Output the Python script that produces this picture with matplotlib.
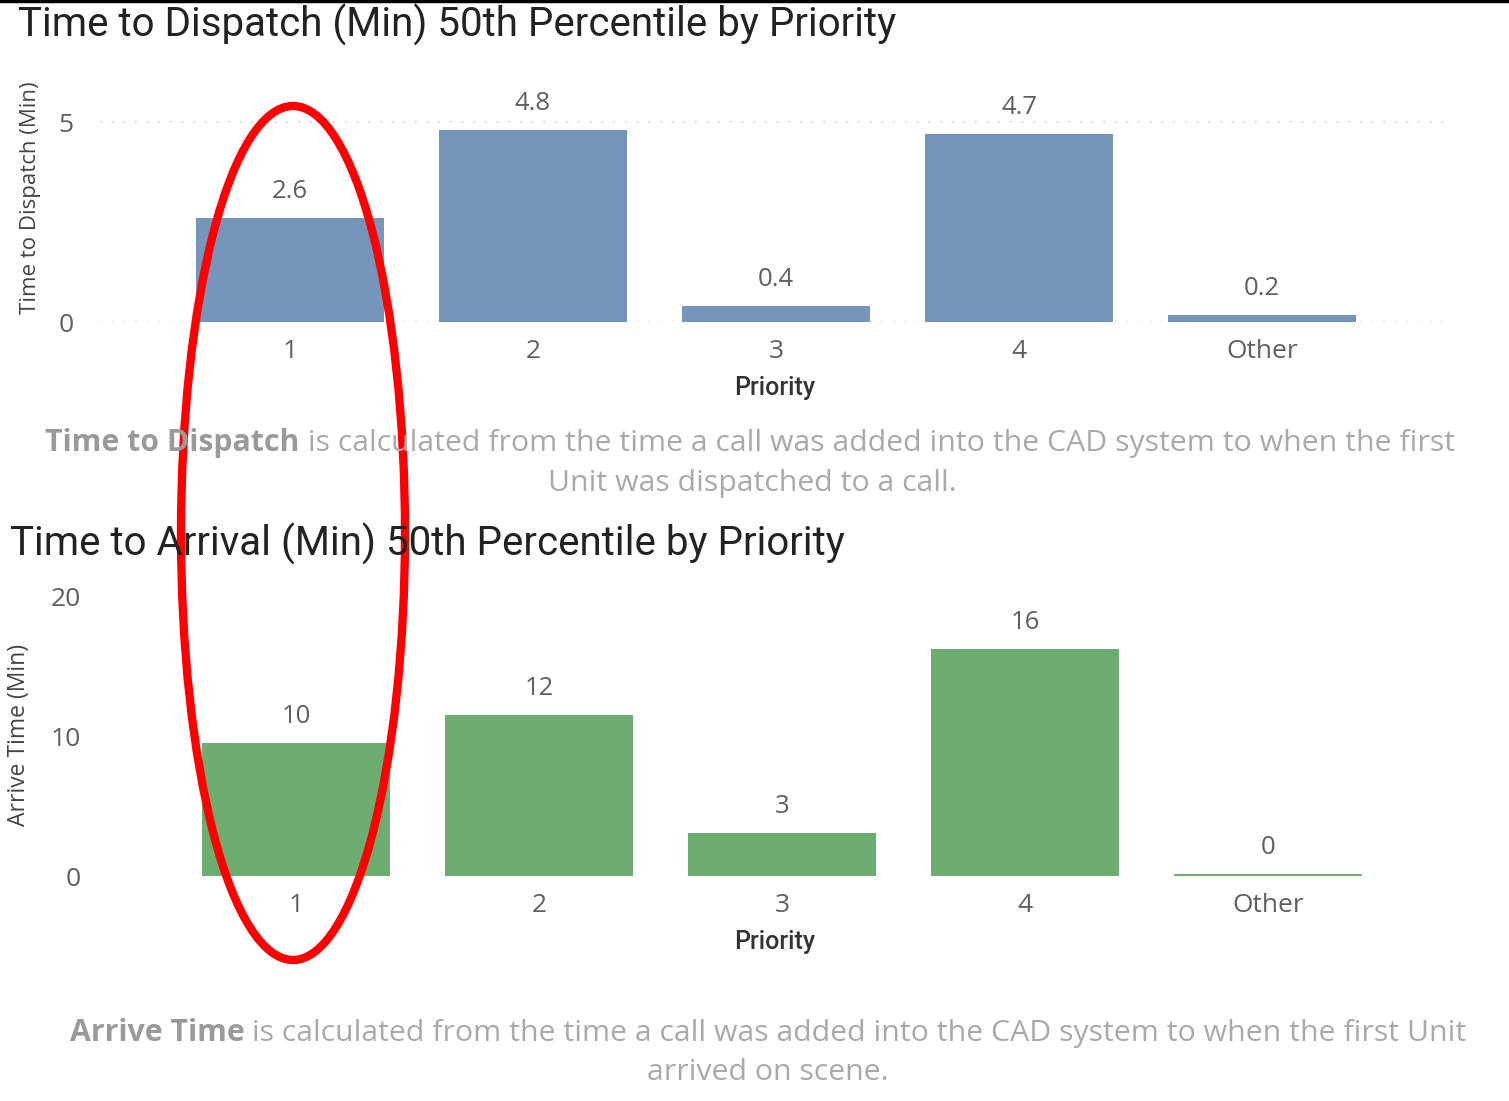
import matplotlib
matplotlib.use("Agg")
import matplotlib.pyplot as plt
from matplotlib.patches import Ellipse
from matplotlib.lines import Line2D
from matplotlib.transforms import IdentityTransform

priorities = ["1", "2", "3", "4", "Other"]
dispatch_min = [2.6, 4.8, 0.4, 4.7, 0.17]
dispatch_labels = ["2.6", "4.8", "0.4", "4.7", "0.2"]
arrive_min = [9.5, 11.5, 3.1, 16.2, 0.15]
arrive_labels = ["10", "12", "3", "16", "0"]

blue = "#7596BA"
green = "#6DAD6F"
label_grey = "#5f5f5f"
note_grey = "#a9a9a9"

W, H = 1509, 1101
fig = plt.figure(figsize=(W / 100, H / 100), dpi=100)
fig.patch.set_facecolor("white")


def px_axes(left, right, top, bottom):
    return fig.add_axes([left / W, 1 - bottom / H, (right - left) / W, (bottom - top) / H])


def bar_chart(ax, values, labels, color, ylabel, yticks, ylim, xlim, grid,
              ypad, ylabelsize, ylabel_xy):
    ax.bar(range(len(priorities)), values, width=0.77, color=color)
    for i, (v, s) in enumerate(zip(values, labels)):
        ax.annotate(s, (i, v), xytext=(0, 10), textcoords="offset points",
                    ha="center", va="bottom", fontsize=18.5, color=label_grey,
                    family="Open Sans")
    ax.set_xlim(*xlim)
    ax.set_ylim(*ylim)
    ax.set_xticks(range(len(priorities)))
    ax.set_xticklabels(priorities, fontsize=19, color=label_grey, family="Open Sans")
    ax.set_yticks(yticks)
    ax.set_yticklabels([str(t) for t in yticks], fontsize=19, color=label_grey,
                       family="Open Sans")
    ax.tick_params(length=0, axis="x", pad=12)
    ax.tick_params(length=0, axis="y", pad=ypad)
    ax.set_xlabel("Priority", fontsize=18, color="#333333", family="Roboto",
                  fontweight="medium", labelpad=9)
    ax.set_ylabel(ylabel, fontsize=ylabelsize, color="#444444", family="Open Sans")
    ax.yaxis.set_label_coords(*ylabel_xy)
    for s in ax.spines.values():
        s.set_visible(False)
    if grid:
        ax.yaxis.grid(True, linestyle=(0, (1, 6)), color="#cfcfcf", linewidth=1.2)
        ax.set_axisbelow(True)


ax1 = px_axes(100, 1450, 90, 322)
bar_chart(ax1, dispatch_min, dispatch_labels, blue, "Time to Dispatch (Min)",
          [0, 5], (0, 5.8), ((100 - 290) / 243, (1450 - 290) / 243), True,
          19, 16, (-0.044, 0.534))

ax2 = px_axes(100, 1450, 580, 876)
bar_chart(ax2, arrive_min, arrive_labels, green, "Arrive Time (Min)",
          [0, 10, 20], (0, 296 / 14), ((100 - 296) / 243, (1450 - 296) / 243), False,
          14, 16.5, (-0.051, 0.476))

fig.text(18 / W, 1 - 25 / H, "Time to Dispatch (Min) 50th Percentile by Priority",
         fontsize=29, family="Roboto", color="#222222", va="center", ha="left")
fig.text(10 / W, 1 - 544 / H, "Time to Arrival (Min) 50th Percentile by Priority",
         fontsize=29, family="Roboto", color="#222222", va="center", ha="left")


# captions with a bold lead-in, centred as one line
def caption(cx, cy, parts, size=21.8):
    renderer = fig.canvas.get_renderer()
    texts = []
    for s, w in parts:
        t = fig.text(0, 0, s, fontsize=size, fontweight=w, family="Open Sans",
                     color="#9a9a9a" if w == "bold" else note_grey,
                     va="center", ha="left", transform=IdentityTransform())
        texts.append(t)
    widths = [t.get_window_extent(renderer).width for t in texts]
    x = cx - sum(widths) / 2
    for t, w in zip(texts, widths):
        t.set_position((x, H - cy))
        x += w


caption(750, 443, [("Time to Dispatch", "bold"),
                   (" is calculated from the time a call was added into the CAD system to when the first", "normal")])
caption(752, 484, [("Unit was dispatched to a call.", "normal")])
caption(768, 1033, [("Arrive Time", "bold"),
                    (" is calculated from the time a call was added into the CAD system to when the first Unit", "normal")])
caption(768, 1073, [("arrived on scene.", "normal")])

# red highlight around priority 1
fig.add_artist(Ellipse((293 / W, 1 - 533 / H), 224 / W, 854 / H, transform=fig.transFigure,
                       fill=False, edgecolor="#ff0000", linewidth=6))
fig.add_artist(Line2D([0, 1], [1 - 1 / H, 1 - 1 / H], transform=fig.transFigure,
                      color="black", linewidth=2.5))

fig.savefig("out.png", dpi=100)
